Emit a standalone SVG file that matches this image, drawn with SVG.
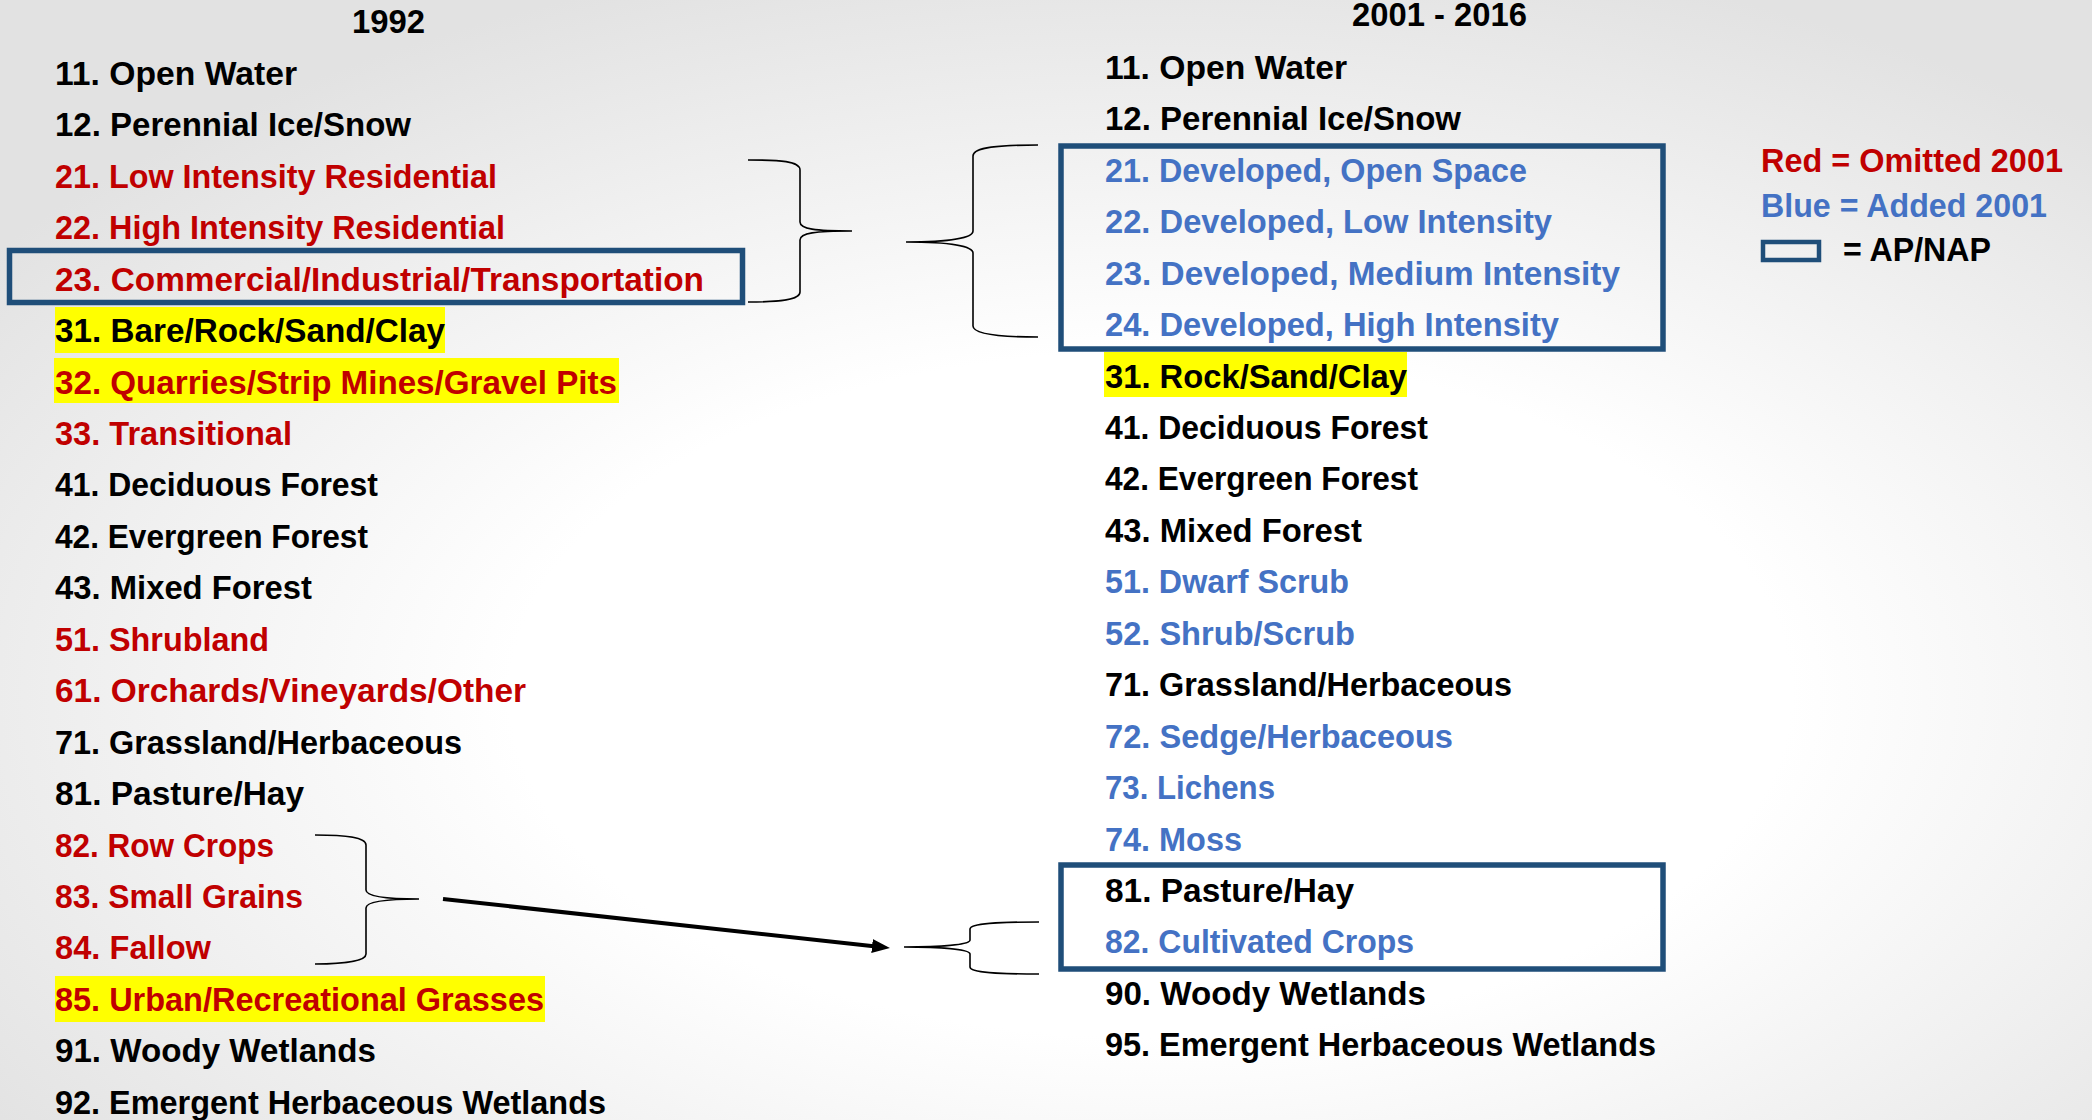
<svg xmlns="http://www.w3.org/2000/svg" width="2092" height="1120" viewBox="0 0 2092 1120">
<defs>
<radialGradient id="bg" cx="55%" cy="62%" r="68%">
<stop offset="0" stop-color="#FFFFFF"/>
<stop offset="0.45" stop-color="#FFFFFF"/>
<stop offset="1" stop-color="#E2E2E2"/>
</radialGradient>
<marker id="ah" markerUnits="userSpaceOnUse" markerWidth="18" markerHeight="14" refX="4" refY="7" orient="auto">
<path d="M0,0 L18,7 L0,14 z" fill="#000"/>
</marker>
<style>
.t{font-family:"Liberation Sans",Arial,sans-serif;font-weight:bold;font-size:32.5px}
.k{fill:#000}
.r{fill:#C00000}
.b{fill:#4472C4}
.hl{fill:#FFFF00}
.box{fill:none;stroke:#1F4E79;stroke-width:5.5}
.br{fill:none;stroke:#000;stroke-width:1.6}
.ar{fill:none;stroke:#000;stroke-width:4}
</style>
</defs>
<rect x="0" y="0" width="2092" height="1120" fill="url(#bg)"/>

<!-- highlights -->
<g id="highlights">
<rect class="hl" x="55" y="307" width="390" height="46"/>
<rect class="hl" x="54" y="358" width="565" height="45"/>
<rect class="hl" x="55" y="976" width="490" height="46"/>
<rect class="hl" x="1104" y="352" width="303" height="45"/>
</g>

<!-- titles -->
<g id="title-1992"><text class="t k" x="352" y="33" textLength="73" lengthAdjust="spacingAndGlyphs">1992</text></g>
<g id="title-2001"><text class="t k" x="1352" y="26" textLength="175" lengthAdjust="spacingAndGlyphs">2001 - 2016</text></g>

<!-- left list 1992 -->
<g id="l11"><text class="t k" x="55" y="85" textLength="242" lengthAdjust="spacingAndGlyphs">11. Open Water</text></g>
<g id="l12"><text class="t k" x="55" y="136.4" textLength="356" lengthAdjust="spacingAndGlyphs">12. Perennial Ice/Snow</text></g>
<g id="l21"><text class="t r" x="55" y="187.9" textLength="442" lengthAdjust="spacingAndGlyphs">21. Low Intensity Residential</text></g>
<g id="l22"><text class="t r" x="55" y="239.3" textLength="450" lengthAdjust="spacingAndGlyphs">22. High Intensity Residential</text></g>
<g id="l23"><text class="t r" x="55" y="290.7" textLength="649" lengthAdjust="spacingAndGlyphs">23. Commercial/Industrial/Transportation</text></g>
<g id="l31"><text class="t k" x="55" y="342.2" textLength="390" lengthAdjust="spacingAndGlyphs">31. Bare/Rock/Sand/Clay</text></g>
<g id="l32"><text class="t r" x="55" y="393.6" textLength="562" lengthAdjust="spacingAndGlyphs">32. Quarries/Strip Mines/Gravel Pits</text></g>
<g id="l33"><text class="t r" x="55" y="445" textLength="237" lengthAdjust="spacingAndGlyphs">33. Transitional</text></g>
<g id="l41"><text class="t k" x="55" y="496.4" textLength="323" lengthAdjust="spacingAndGlyphs">41. Deciduous Forest</text></g>
<g id="l42"><text class="t k" x="55" y="547.9" textLength="313" lengthAdjust="spacingAndGlyphs">42. Evergreen Forest</text></g>
<g id="l43"><text class="t k" x="55" y="599.3" textLength="257" lengthAdjust="spacingAndGlyphs">43. Mixed Forest</text></g>
<g id="l51"><text class="t r" x="55" y="650.7" textLength="214" lengthAdjust="spacingAndGlyphs">51. Shrubland</text></g>
<g id="l61"><text class="t r" x="55" y="702.2" textLength="471" lengthAdjust="spacingAndGlyphs">61. Orchards/Vineyards/Other</text></g>
<g id="l71"><text class="t k" x="55" y="753.6" textLength="407" lengthAdjust="spacingAndGlyphs">71. Grassland/Herbaceous</text></g>
<g id="l81"><text class="t k" x="55" y="805" textLength="249" lengthAdjust="spacingAndGlyphs">81. Pasture/Hay</text></g>
<g id="l82"><text class="t r" x="55" y="856.5" textLength="219" lengthAdjust="spacingAndGlyphs">82. Row Crops</text></g>
<g id="l83"><text class="t r" x="55" y="907.9" textLength="248" lengthAdjust="spacingAndGlyphs">83. Small Grains</text></g>
<g id="l84"><text class="t r" x="55" y="959.3" textLength="156" lengthAdjust="spacingAndGlyphs">84. Fallow</text></g>
<g id="l85"><text class="t r" x="55" y="1010.7" textLength="489" lengthAdjust="spacingAndGlyphs">85. Urban/Recreational Grasses</text></g>
<g id="l91"><text class="t k" x="55" y="1062.2" textLength="321" lengthAdjust="spacingAndGlyphs">91. Woody Wetlands</text></g>
<g id="l92"><text class="t k" x="55" y="1113.6" textLength="551" lengthAdjust="spacingAndGlyphs">92. Emergent Herbaceous Wetlands</text></g>

<!-- right list 2001-2016 -->
<g id="r11"><text class="t k" x="1105" y="79" textLength="242" lengthAdjust="spacingAndGlyphs">11. Open Water</text></g>
<g id="r12"><text class="t k" x="1105" y="130.4" textLength="356" lengthAdjust="spacingAndGlyphs">12. Perennial Ice/Snow</text></g>
<g id="r21"><text class="t b" x="1105" y="181.9" textLength="422" lengthAdjust="spacingAndGlyphs">21. Developed, Open Space</text></g>
<g id="r22"><text class="t b" x="1105" y="233.3" textLength="447" lengthAdjust="spacingAndGlyphs">22. Developed, Low Intensity</text></g>
<g id="r23"><text class="t b" x="1105" y="284.7" textLength="515" lengthAdjust="spacingAndGlyphs">23. Developed, Medium Intensity</text></g>
<g id="r24"><text class="t b" x="1105" y="336.2" textLength="454" lengthAdjust="spacingAndGlyphs">24. Developed, High Intensity</text></g>
<g id="r31"><text class="t k" x="1105" y="387.6" textLength="302" lengthAdjust="spacingAndGlyphs">31. Rock/Sand/Clay</text></g>
<g id="r41"><text class="t k" x="1105" y="439" textLength="323" lengthAdjust="spacingAndGlyphs">41. Deciduous Forest</text></g>
<g id="r42"><text class="t k" x="1105" y="490.4" textLength="313" lengthAdjust="spacingAndGlyphs">42. Evergreen Forest</text></g>
<g id="r43"><text class="t k" x="1105" y="541.9" textLength="257" lengthAdjust="spacingAndGlyphs">43. Mixed Forest</text></g>
<g id="r51"><text class="t b" x="1105" y="593.3" textLength="244" lengthAdjust="spacingAndGlyphs">51. Dwarf Scrub</text></g>
<g id="r52"><text class="t b" x="1105" y="644.7" textLength="250" lengthAdjust="spacingAndGlyphs">52. Shrub/Scrub</text></g>
<g id="r71"><text class="t k" x="1105" y="696.2" textLength="407" lengthAdjust="spacingAndGlyphs">71. Grassland/Herbaceous</text></g>
<g id="r72"><text class="t b" x="1105" y="747.6" textLength="348" lengthAdjust="spacingAndGlyphs">72. Sedge/Herbaceous</text></g>
<g id="r73"><text class="t b" x="1105" y="799" textLength="170" lengthAdjust="spacingAndGlyphs">73. Lichens</text></g>
<g id="r74"><text class="t b" x="1105" y="850.5" textLength="137" lengthAdjust="spacingAndGlyphs">74. Moss</text></g>
<g id="r81"><text class="t k" x="1105" y="901.9" textLength="249" lengthAdjust="spacingAndGlyphs">81. Pasture/Hay</text></g>
<g id="r82"><text class="t b" x="1105" y="953.3" textLength="309" lengthAdjust="spacingAndGlyphs">82. Cultivated Crops</text></g>
<g id="r90"><text class="t k" x="1105" y="1004.7" textLength="321" lengthAdjust="spacingAndGlyphs">90. Woody Wetlands</text></g>
<g id="r95"><text class="t k" x="1105" y="1056.2" textLength="551" lengthAdjust="spacingAndGlyphs">95. Emergent Herbaceous Wetlands</text></g>

<!-- AP/NAP boxes -->
<g id="box-left-23"><rect class="box" x="9.5" y="250.5" width="733" height="52"/></g>
<g id="box-right-developed"><rect class="box" x="1061" y="146" width="602" height="203"/></g>
<g id="box-right-81-82"><rect class="box" x="1061" y="865" width="602" height="104"/></g>

<!-- legend -->
<g id="legend">
<text class="t r" x="1761" y="172" textLength="302" lengthAdjust="spacingAndGlyphs">Red = Omitted 2001</text>
<text class="t b" x="1761" y="217" textLength="286" lengthAdjust="spacingAndGlyphs">Blue = Added 2001</text>
<rect x="1763" y="242" width="56" height="18" fill="none" stroke="#1F4E79" stroke-width="4.5"/>
<text class="t k" x="1843" y="261" textLength="148" lengthAdjust="spacingAndGlyphs">= AP/NAP</text>
</g>

<!-- connectors -->
<g id="connectors">
<path class="br" d="M748,160 C780,160 800,161 800,170 L800,222 C800,229 815,231 852,231 C815,231 800,233 800,240 L800,292 C800,300 780,302 748,302"/>
<path class="br" d="M1038,145 C1000,145 973,147 973,156 L973,231 C973,238 950,242 906,242 C950,242 973,246 973,253 L973,326 C973,334 1000,337 1038,337"/>
<path class="br" d="M315,835 C345,835 366,837 366,845 L366,890 C366,896 385,899 419,899 C385,899 366,902 366,908 L366,954 C366,961 345,964 315,964"/>
<path class="br" d="M1039,922 C1000,922 970,923 970,929 L970,940 C970,945 940,947 904,947 C940,947 970,949 970,954 L970,967 C970,973 1000,974 1039,974"/>
<line class="ar" x1="443" y1="899" x2="876" y2="946.5" marker-end="url(#ah)"/>
</g>
</svg>
